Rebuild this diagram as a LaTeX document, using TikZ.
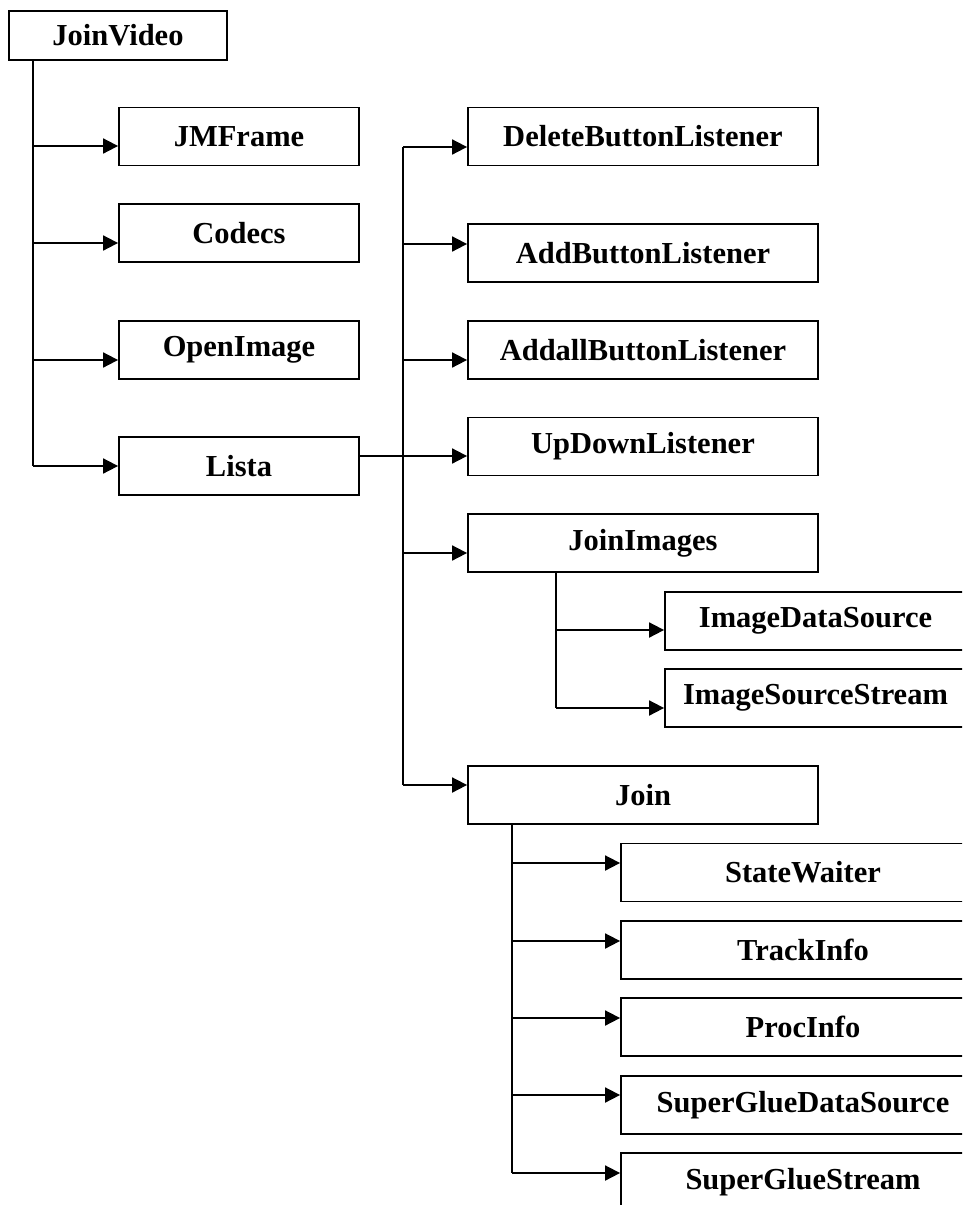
\documentclass[tikz,border=0pt]{standalone}
\usepackage{fontspec}
\setmainfont{Liberation Serif}
\usetikzlibrary{arrows.meta}
\begin{document}
\begin{tikzpicture}[x=1pt,y=-1pt,
  every node/.style={font=\fontsize{30.5}{36}\selectfont\bfseries},
  cls/.style={draw, line width=1.8pt, inner sep=0pt, minimum height=58pt},
  root/.style={cls, minimum height=49pt, minimum width=218pt},
  colA/.style={cls, minimum width=240pt},
  colB/.style={cls, minimum width=350pt},
  colC/.style={cls, minimum width=301pt},
  colD/.style={cls, minimum width=364pt},
  link/.style={line width=1.8pt},
  arr/.style={link, -{Triangle[length=15pt,width=15pt]}}]
\useasboundingbox (0,0) rectangle (962,1205);
\clip (0,0) rectangle (962,1205);

% root class
\node[root] (JoinVideo) at (118,35.5) {JoinVideo};

% first level
\node[colA] (JMFrame)   at (239,136.5) {JMFrame};
\node[colA] (Codecs)    at (239,233)   {Codecs};
\node[colA] (OpenImage) at (239,350)   {OpenImage};
\node[colA] (Lista)     at (239,466)   {Lista};

% classes used by Lista
\node[colB] (Delete)     at (643,136.5) {DeleteButtonListener};
\node[colB] (Add)        at (643,253)   {AddButtonListener};
\node[colB] (Addall)     at (643,350)   {AddallButtonListener};
\node[colB] (UpDown)     at (643,446.5) {UpDownListener};
\node[colB] (JoinImages) at (643,543)   {JoinImages};
\node[colB] (Join)       at (643,795)   {Join};

% classes used by JoinImages
\node[colC] (ImgData)   at (815.5,621) {ImageDataSource};
\node[colC] (ImgStream) at (815.5,698) {ImageSourceStream};

% classes used by Join
\node[colD] (State)  at (803,872.5) {StateWaiter};
\node[colD] (Track)  at (803,950)   {TrackInfo};
\node[colD] (Proc)   at (803,1027)  {ProcInfo};
\node[colD] (SGDS)   at (803,1105)  {SuperGlueDataSource};
\node[colD] (SGS)    at (803,1182)  {SuperGlueStream};

% trunk below JoinVideo
\coordinate (a1) at (33,146);
\coordinate (a2) at (33,243);
\coordinate (a3) at (33,360);
\coordinate (a4) at (33,466);
\draw[link] (JoinVideo.south -| a1) -- (a4);
\draw[arr] (a1) -- (a1 -| JMFrame.west);
\draw[arr] (a2) -- (a2 -| Codecs.west);
\draw[arr] (a3) -- (a3 -| OpenImage.west);
\draw[arr] (a4) -- (a4 -| Lista.west);

% trunk of Lista
\coordinate (b1) at (403,147);
\coordinate (b2) at (403,244);
\coordinate (b3) at (403,360);
\coordinate (b4) at (403,456);
\coordinate (b5) at (403,553);
\coordinate (b6) at (403,785);
\draw[link] (b1) -- (b6);
\draw[arr] (b1) -- (b1 -| Delete.west);
\draw[arr] (b2) -- (b2 -| Add.west);
\draw[arr] (b3) -- (b3 -| Addall.west);
\draw[arr] (Lista.east |- b4) -- (b4 -| UpDown.west);
\draw[arr] (b5) -- (b5 -| JoinImages.west);
\draw[arr] (b6) -- (b6 -| Join.west);

% trunk of JoinImages
\coordinate (c1) at (556,630);
\coordinate (c2) at (556,708);
\draw[link] (JoinImages.south -| c1) -- (c2);
\draw[arr] (c1) -- (c1 -| ImgData.west);
\draw[arr] (c2) -- (c2 -| ImgStream.west);

% trunk of Join
\coordinate (d1) at (512,863);
\coordinate (d2) at (512,941);
\coordinate (d3) at (512,1018);
\coordinate (d4) at (512,1095);
\coordinate (d5) at (512,1173);
\draw[link] (Join.south -| d1) -- (d5);
\draw[arr] (d1) -- (d1 -| State.west);
\draw[arr] (d2) -- (d2 -| Track.west);
\draw[arr] (d3) -- (d3 -| Proc.west);
\draw[arr] (d4) -- (d4 -| SGDS.west);
\draw[arr] (d5) -- (d5 -| SGS.west);
\end{tikzpicture}
\end{document}
